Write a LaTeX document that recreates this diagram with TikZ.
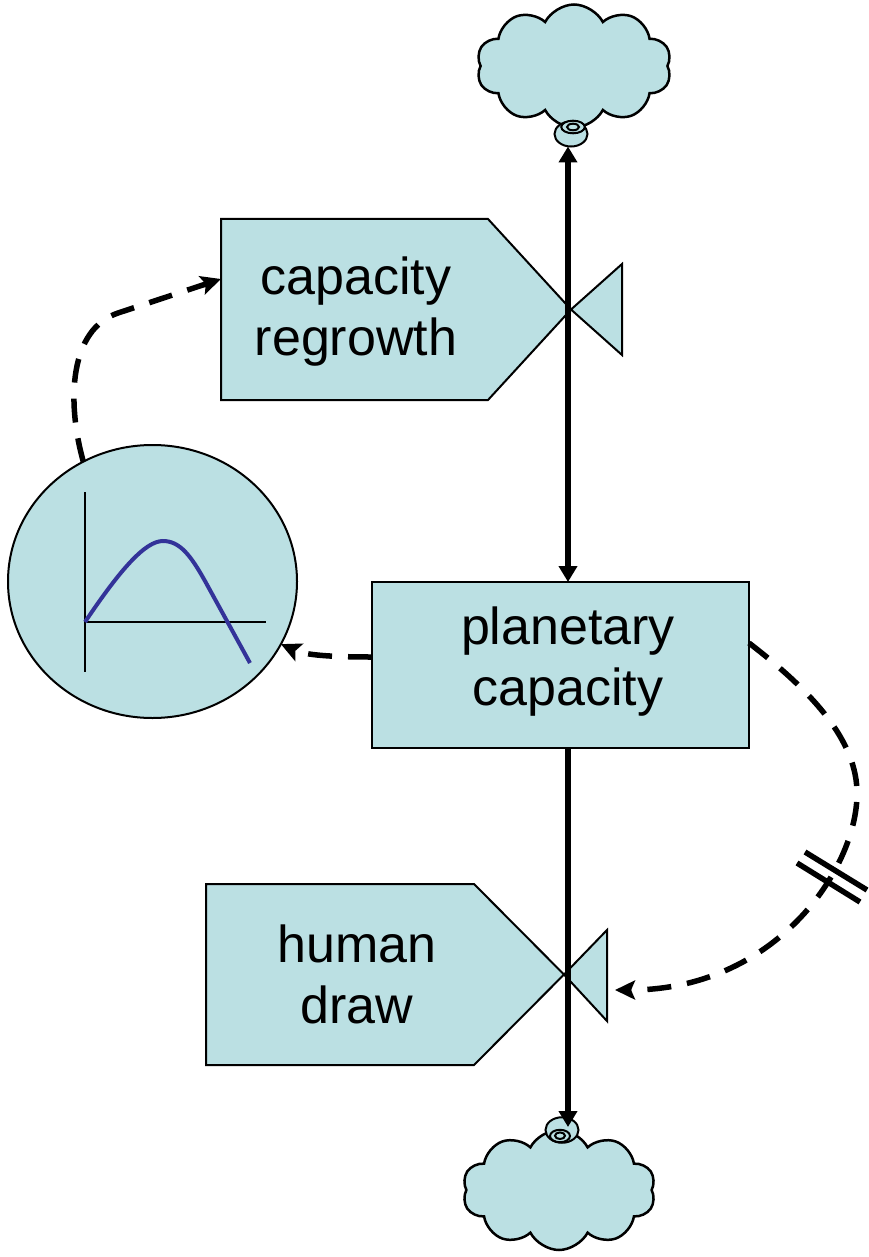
\documentclass[tikz,border=0pt]{standalone}
\usepackage{fontspec}
\setmainfont{Liberation Sans}
\usetikzlibrary{arrows.meta,shapes.geometric,shapes.symbols,calc}
\definecolor{sfill}{HTML}{BBE0E3}
\definecolor{cblue}{HTML}{333399}
\begin{document}
\begin{tikzpicture}[x=1pt,y=-1pt,
  shapeline/.style={draw=black, line width=2pt, fill=sfill, line join=miter},
  lbl/.style={font=\fontsize{52}{61}\selectfont, align=center, inner sep=0pt},
  flowline/.style={line width=5.5pt},
  ftip/.tip={Triangle[width=18pt,length=16pt]},
  dtip/.tip={Stealth[length=20pt,width=19pt,inset=4pt]},
  dashconn/.style={line width=5.5pt, dash pattern=on 24pt off 16pt, -dtip},
  cloudy/.style={cloud, cloud puffs=10, cloud puff arc=125, draw, line width=2.5pt, fill=sfill, inner sep=0pt, outer sep=0pt},
  bump/.style={ellipse, draw, line width=2pt, fill=sfill, inner sep=0pt, outer sep=0pt},
  ring/.style={ellipse, draw, line width=2pt, inner sep=0pt, outer sep=0pt},
  area/.style={rectangle, draw=none, inner sep=0pt, outer sep=0pt}
]
\useasboundingbox (0,0) rectangle (869,1257);

% clouds
\node[cloudy, minimum width=195pt, minimum height=123pt, aspect=1.55] (topcloud) at (574,66) {};
\node[bump, minimum width=33pt, minimum height=25pt] (topbump) at (571,134) {};
\node[ring, fill=sfill, minimum width=23.5pt, minimum height=12.6pt] (topring) at (573,127) {};
\node[ring, minimum width=12pt, minimum height=6.6pt] (topring2) at (573,127) {};

\node[cloudy, minimum width=193pt, minimum height=120pt, aspect=1.55] (botcloud) at (559,1190) {};
\node[bump, minimum width=33pt, minimum height=25.5pt] (botbump) at (562,1130) {};
\node[ring, minimum width=20pt, minimum height=12.4pt] (botring) at (560,1136) {};
\node[ring, minimum width=10pt, minimum height=6.6pt] (botring2) at (560,1135.7) {};

% capacity regrowth valve
\node[area, minimum width=267pt, minimum height=181pt] (cr) at (354.5,309.5) {};
\coordinate (crtip) at (571,309.5);
\filldraw[shapeline] (cr.north west) -- (cr.north east) -- (crtip) -- (cr.south east) -- (cr.south west) -- cycle;
\filldraw[shapeline] (crtip) -- (622,264) -- (622,355) -- cycle;
\node[lbl] (crl) at ([xshift=1.5pt,yshift=-2pt]cr.center) {capacity\\regrowth};

% human draw valve
\node[area, minimum width=268pt, minimum height=181pt] (hd) at (340,974.5) {};
\coordinate (hdtip) at (564,974.5);
\filldraw[shapeline] (hd.north west) -- (hd.north east) -- (hdtip) -- (hd.south east) -- (hd.south west) -- cycle;
\filldraw[shapeline] (hdtip) -- (607,930) -- (607,1021) -- cycle;
\node[lbl] (hdl) at ([xshift=17pt]hd.center) {human\\draw};

% planetary capacity stock
\node[shapeline, rectangle, inner sep=0pt, outer sep=0pt, minimum width=377pt, minimum height=166pt] (pc) at (560.5,665) {};
\node[lbl] (pcl) at (568,662) {planetary\\capacity};

% flows
\coordinate (fx) at (568,0);
\coordinate (botin) at (568,1127);
\draw[flowline, ftip-ftip] (topbump.south -| fx) -- (pc.north -| fx);
\draw[flowline, -ftip] (pc.south -| fx) -- (botin);

% graph (lookup)
\node[bump, minimum width=289pt, minimum height=273pt] (gc) at (152.5,581.5) {};
\draw[line width=2.5pt] (85,492) -- (85,672);
\draw[line width=2.5pt] (85,622) -- (266,622);
\draw[cblue, line width=4pt] (85,622) .. controls (120,570) and (145,541) .. (163,541)
   .. controls (180,541) and (191,556) .. (205,581) -- (250,663);

% information connectors
\draw[dashconn] (gc.120) .. controls (66,400) and (70,329) .. (118,313) -- ([yshift=30.5pt]cr.west);
\draw[dashconn] ([yshift=8pt]pc.west) .. controls (330,657) and (305,655) .. (gc.-26);
\coordinate (hdin) at (615,990);
\draw[dashconn] ([yshift=22pt]pc.east) .. controls (810,690) and (858,740) .. (857,795)
   .. controls (856,870) and (775,990) .. (hdin);

% delay marks
\draw[line width=5.5pt] (805,852) -- (867,890);
\draw[line width=5.5pt] (797,863) -- (860,902);
\end{tikzpicture}
\end{document}
